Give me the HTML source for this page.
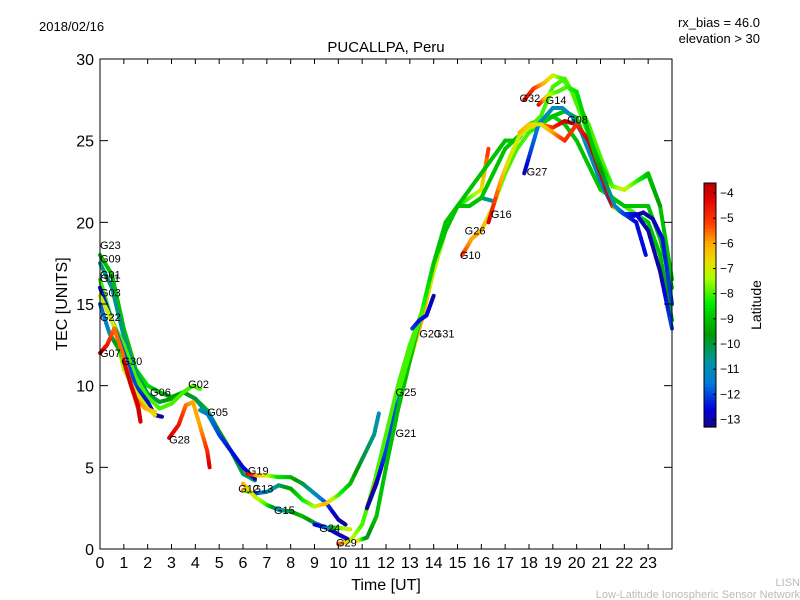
<!DOCTYPE html>
<html><head><meta charset="utf-8"><style>
html,body{margin:0;padding:0;background:#fff;}
svg{display:block;font-family:"Liberation Sans","DejaVu Sans",sans-serif;}
</style></head><body>
<svg id="chart" width="800" height="600" viewBox="0 0 800 600" xmlns="http://www.w3.org/2000/svg">
<rect width="800" height="600" fill="#fff"/>
<text x="39" y="31" font-size="13">2018/02/16</text>
<text x="760" y="27" font-size="13" text-anchor="end">rx_bias = 46.0</text>
<text x="760" y="43" font-size="13" text-anchor="end">elevation &gt; 30</text>
<text x="386" y="52" font-size="15" text-anchor="middle">PUCALLPA, Peru</text>
<g id="plot"></g>
<rect x="100" y="59" width="572" height="490" fill="none" stroke="#000" stroke-width="1"/>
<g id="axes"></g>
<text x="386" y="590" font-size="16" text-anchor="middle">Time [UT]</text>
<text transform="translate(67,304) rotate(-90)" font-size="16" text-anchor="middle">TEC [UNITS]</text>
<g id="cbar"></g>
<text transform="translate(761,305) rotate(-90)" font-size="14" text-anchor="middle">Latitude</text>
<text x="800" y="586" font-size="11" fill="#bbb" text-anchor="end">LISN</text>
<text x="800" y="598" font-size="11" fill="#bbb" text-anchor="end">Low-Latitude Ionospheric Sensor Network</text>
</svg>
<script>
const xTicks=[0,1,2,3,4,5,6,7,8,9,10,11,12,13,14,15,16,17,18,19,20,21,22,23];
const yTicks=[0,5,10,15,20,25,30];
const cbTicks=[-4,-5,-6,-7,-8,-9,-10,-11,-12,-13];
const satNames=["G23","G09","G01","G11","G03","G22","G07","G30","G28","G05","G19","G12","G15","G24","G29","G21","G25","G20","G10","G26","G16","G27","G32","G08","G14","G31"];
const satTimes=[
 [0,0.5,1,1.5,2,2.5,3,3.5,4,4.5,5,5.5,6,6.5],
 [0,0.5,1,1.5,2,2.5,3,3.5,4,4.5,5,5.5],
 [0,0.5,1,1.5,2,2.5,3,3.5,3.9,4.2],
 [0,0.5,1,1.5,2,2.3,2.6],
 [0,0.3,0.6,1,1.5,2,2.3],
 [0,0.4,0.8,1.2,1.6,1.7],
 [0,0.3,0.6,0.9,1.2,1.5,1.9,2.3],
 [1,1.3,1.6,1.7],
 [2.9,3.3,3.6,3.9,4.2,4.5,4.6],
 [4.2,4.6,5,5.5,6,6.5],
 [6.2,6.6,7,7.5,8,8.5,9,9.5,10,10.3],
 [6,6.5,7,7.5,8,8.5,9,9.5,10,10.5,11,11.5,11.7],
 [6,6.5,7,7.5,8,8.5,9,9.5,10,10.4],
 [9,9.5,10,10.5],
 [10,10.5,11,11.5,12,12.5,13,13.5,14,14.5,15,15.5,16,16.5],
 [11.2,11.7,12,12.3],
 [11.2,11.6,12,12.5,13,13.5,14,14.5,15,15.5,16,16.3],
 [10.8,11.2,11.6,12,12.5,13,13.5,14,14.5,15,15.5,16,16.5,17,17.5,18,18.5,19,19.5,20,20.5,21,21.5,22,22.5,23,23.5,24],
 [15.2,15.6,16,16.5,17,17.5,18,18.5,19,19.5,20,20.5,21,21.5,22,22.5,23,23.5,24],
 [12.5,13,13.5,14,14.5,15,15.5,16,16.5,17,17.5,18,18.5,19,19.5,20,20.5,21,21.5,22,22.5,23,23.5,24],
 [16.3,16.8,17.2,17.6,18,18.5,19,19.5,20,20.5,21,21.3],
 [17.8,18.1,18.4,18.7,19,19.4,19.8,20.2,20.6,21,21.5,22,22.5,23,23.5,24],
 [17.8,18.2,18.6,19,19.4,19.8,20.2,20.6,21,21.5,22,22.5,23,23.5],
 [17.6,18,18.5,19,19.5,20,20.5,21,21.5,22,22.5,22.9],
 [18.4,18.8,19.2,19.6,20,20.4,20.8,21.2,21.6,22,22.4,22.8,23.2,23.6,24],
 [13.1,13.4,13.7,14]
];
const satTec=[
 [18,16.8,13.5,11,10,9.6,9.3,9.6,9.2,8.5,7.2,6,4.6,4.2],
 [17.5,16,13,10.8,9.5,9,9.2,9.6,9.2,8.3,7,6],
 [16.5,14,12.5,10.5,9.3,8.6,8.9,9.6,10,9.8],
 [16,14,12,10,9,8.2,8.1],
 [15.5,14.6,13.6,11,9.6,8.6,8.2],
 [15,13.2,12.2,10.5,8.6,7.8],
 [12,12.5,13.5,12.2,10.6,9.2,8.6,8.4],
 [11.5,10,8.8,7.8],
 [6.8,7.6,8.8,9,7.5,6,5],
 [8.5,8.2,7,6,5,4.3],
 [4.6,4.5,4.5,4.4,4.4,4,3.4,2.8,1.8,1.5],
 [3.6,3.4,3.5,3.9,3.7,3,2.6,2.8,3.3,4,5.5,7,8.3],
 [4,3.2,2.7,2.4,2.3,2,1.6,1.3,0.9,0.6],
 [1.5,1.3,1.3,1.2],
 [0.3,0.5,1.5,4,7,10,12.5,14.5,17,19.5,21,21,21.5,21.3],
 [2.5,4.5,6,7.2],
 [2.5,4,6,9,11.5,14,17,19.5,21,21.5,22,24.5],
 [0.5,0.7,2,5,8.5,11.5,14.5,17.5,19.5,21,22,23,24,25,25,26,26.3,26.5,26,25,23.5,22,21.5,21,20.5,20,18,14],
 [18,19,19.5,21,23,24.5,25.5,26,26.5,26.8,26.4,24.5,22.5,21.5,21,21,21,19,16],
 [9.5,12,14.5,17.5,20,21,21,21.5,23,24.5,25.2,25.8,26.5,28.3,28.8,27.5,26,24,22.2,22,22.5,23,21,16.5],
 [20,22.5,24,25.3,25.8,26,25.8,26.2,26,25,23.5,22.5],
 [23,24.5,26,26.5,27,27,26.5,25.5,24,22.5,21,20.5,20.5,19.5,17,13.5],
 [27.5,28.2,28.5,29,28.8,28,26.5,25,23.5,22.2,22,22.5,22.9,21],
 [25.5,26,26,25.5,25,26,25,23,21,20.5,20,18],
 [27.2,27.8,28,28.3,28,26,24,22.5,21,20.5,20.4,20.6,20.2,19,15],
 [13.5,14,14.3,15.5]
];
const satLat=[
 [-9,-9,-9,-9,-8.5,-9,-9.5,-9,-9,-9,-9.5,-10,-10,-10.5],
 [-10.5,-10.5,-10.5,-10.5,-10,-10,-9.5,-9.5,-10,-10.5,-11,-11],
 [-8,-8,-8,-8,-8,-8,-8,-8,-8,-8],
 [-12.5,-12,-12,-12,-12.5,-13,-13],
 [-7,-7,-7,-7,-7,-7,-7],
 [-12,-11,-9,-6,-5,-4],
 [-4,-4.5,-5.5,-5.5,-5.5,-5.5,-6,-6.5],
 [-4,-4,-4,-4],
 [-4,-4.5,-5.5,-6,-6,-5,-4],
 [-11,-11.5,-12,-12.5,-12.5,-13],
 [-4,-6,-7,-8.5,-9,-10,-11,-12,-13,-13],
 [-5,-12.5,-11,-10.5,-9.5,-8.5,-7.5,-6,-8,-9,-10,-10.5,-11],
 [-6,-7,-8,-11,-10,-9,-10,-12,-13,-13],
 [-13,-12,-8,-7],
 [-5,-7,-8,-8,-8,-8,-8,-8,-8,-8,-8.5,-9,-10,-11],
 [-4,-4,-4,-4],
 [-13,-13,-12,-12,-7,-6,-7,-8,-8.5,-8,-7,-5],
 [-6,-10,-9,-9,-9,-9,-9,-9,-9,-9,-9,-9,-9,-9,-9,-9,-9,-8.5,-9,-9,-9,-9,-8,-8,-8,-9,-9,-10],
 [-5,-6,-6,-7,-8,-8,-8,-8.5,-9,-9,-9,-9,-9,-9,-9,-9,-9,-9,-9],
 [-8,-8,-8,-9,-9,-9,-9,-9,-9,-9,-9,-8,-8,-8,-8,-8,-8,-8,-8,-8,-8,-9,-9,-9],
 [-4,-6,-7,-7,-7,-6,-5,-4,-4,-4.5,-5,-4],
 [-13,-12,-11.5,-11,-11,-11,-11,-11,-11,-11.5,-12,-12.5,-12.5,-13,-13,-12],
 [-4,-5,-6,-7,-8,-8,-8,-8.5,-9,-8,-7,-8,-9,-9.5],
 [-6,-6.5,-7,-6,-5,-5,-4,-4,-4,-12,-12.5,-12.5],
 [-4,-7,-8,-8,-8.5,-9,-9,-10,-11,-12,-12.5,-13,-13,-12.5,-12],
 [-12,-12.5,-12.5,-13]
];
const labelT=[0,0,0,0,0,0,0,0.9,2.9,4.5,6.2,5.8,7.3,9.2,9.9,12.4,12.4,13.4,15.1,15.3,16.4,17.9,17.6,19.6,18.7,14];
const labelV=[18.6,17.8,16.8,16.6,15.7,14.2,12,11.5,6.7,8.4,4.8,3.7,2.4,1.3,0.4,7.1,9.6,13.2,18,19.5,20.5,23.1,27.6,26.3,27.5,13.2];
const extraLabels=["G06","G02","G13"];
const extraT=[2.1,3.7,6.4];
const extraV=[9.6,10.1,3.7];

const NS="http://www.w3.org/2000/svg";
const X0=100,X1=672,Y0=549,Y1=59;
const xs=t=>X0+t*(X1-X0)/24;
const ys=v=>Y0-v*(Y0-Y1)/30;
const LMIN=-13.3,LMAX=-3.6;
const STOPS=[[-13.3,[20,10,130]],[-12.6,[0,0,220]],[-11.6,[0,120,220]],[-10.7,[0,150,160]],[-9.6,[0,155,0]],[-8.4,[0,235,0]],[-7.4,[170,255,0]],[-6.7,[235,220,0]],[-6,[255,170,0]],[-5.2,[255,60,0]],[-4.2,[225,0,0]],[-3.6,[180,0,0]]];
function jet(v){
 v=Math.max(LMIN,Math.min(LMAX,v));
 for(let i=0;i<STOPS.length-1;i++){
  const a=STOPS[i],b=STOPS[i+1];
  if(v<=b[0]){
   const f=(v-a[0])/(b[0]-a[0]);
   const c=a[1].map((x,k)=>Math.round(x+(b[1][k]-x)*f));
   return `rgb(${c[0]},${c[1]},${c[2]})`;
  }
 }
 return 'rgb(180,0,0)';
}
const plot=document.getElementById('plot');
for(let i=0;i<satNames.length;i++){
 const g=document.createElementNS(NS,'g');
 
 
 const T=satTimes[i],V=satTec[i],L=satLat[i];
 for(let j=0;j<T.length-1;j++){
  const n=6;
  for(let k=0;k<n;k++){
   const a=k/n,b=(k+1)/n;
   const ln=document.createElementNS(NS,'line');
   ln.setAttribute('x1',xs(T[j]+(T[j+1]-T[j])*a));
   ln.setAttribute('y1',ys(V[j]+(V[j+1]-V[j])*a));
   ln.setAttribute('x2',xs(T[j]+(T[j+1]-T[j])*b));
   ln.setAttribute('y2',ys(V[j]+(V[j+1]-V[j])*b));
   ln.setAttribute('stroke',jet(L[j]+(L[j+1]-L[j])*(a+b)/2));
   ln.setAttribute('stroke-width','4');
   ln.setAttribute('stroke-linecap','round');
   g.appendChild(ln);
  }
 }
 plot.appendChild(g);
}
function addLabel(txt,t,v){
 const tx=document.createElementNS(NS,'text');
 
 
 tx.setAttribute('x',xs(t));tx.setAttribute('y',ys(v)+4);
 tx.setAttribute('font-size','11');
 tx.textContent=txt;plot.appendChild(tx);
}
for(let i=0;i<satNames.length;i++) addLabel(satNames[i],labelT[i],labelV[i]);
for(let i=0;i<extraLabels.length;i++) addLabel(extraLabels[i],extraT[i],extraV[i]);

const axes=document.getElementById('axes');
xTicks.forEach(t=>{
 const x=xs(t);
 [[Y0,Y0-5],[Y1,Y1+5]].forEach(p=>{
  const l=document.createElementNS(NS,'line');
  
  
  l.setAttribute('x1',x);l.setAttribute('x2',x);l.setAttribute('y1',p[0]);l.setAttribute('y2',p[1]);
  l.setAttribute('stroke','#000');axes.appendChild(l);
 });
 const tx=document.createElementNS(NS,'text');
 
 
 tx.setAttribute('x',x);tx.setAttribute('y',568);tx.setAttribute('font-size','16');
 tx.setAttribute('text-anchor','middle');tx.textContent=t;axes.appendChild(tx);
});
yTicks.forEach(v=>{
 const y=ys(v);
 [[X0,X0+8],[X1,X1-8]].forEach(p=>{
  const l=document.createElementNS(NS,'line');
  
  
  l.setAttribute('x1',p[0]);l.setAttribute('x2',p[1]);l.setAttribute('y1',y);l.setAttribute('y2',y);
  l.setAttribute('stroke','#000');axes.appendChild(l);
 });
 const tx=document.createElementNS(NS,'text');
 
 
 tx.setAttribute('x',94);tx.setAttribute('y',y+6);tx.setAttribute('font-size','16');
 tx.setAttribute('text-anchor','end');tx.textContent=v;axes.appendChild(tx);
});
const cb=document.getElementById('cbar');
const CX=704,CW=12,CT=183,CB=427;
const cy=v=>CB-(v-LMIN)/(LMAX-LMIN)*(CB-CT);
for(let i=0;i<80;i++){
 const r=document.createElementNS(NS,'rect');
 
 
 const y=CT+i*(CB-CT)/80;
 r.setAttribute('x',CX);r.setAttribute('y',y);r.setAttribute('width',CW);r.setAttribute('height',(CB-CT)/80+0.6);
 r.setAttribute('fill',jet(LMAX-(i+0.5)/80*(LMAX-LMIN)));cb.appendChild(r);
}
const fr=document.createElementNS(NS,'rect');


fr.setAttribute('x',CX);fr.setAttribute('y',CT);fr.setAttribute('width',CW);fr.setAttribute('height',CB-CT);
fr.setAttribute('fill','none');fr.setAttribute('stroke','#000');cb.appendChild(fr);
cbTicks.forEach(v=>{
 const y=cy(v);
 const l=document.createElementNS(NS,'line');
 
 
 l.setAttribute('x1',CX+CW-3);l.setAttribute('x2',CX+CW);l.setAttribute('y1',y);l.setAttribute('y2',y);
 l.setAttribute('stroke','#000');cb.appendChild(l);
 const tx=document.createElementNS(NS,'text');
 
 
 tx.setAttribute('x',CX+CW+4);tx.setAttribute('y',y+4);tx.setAttribute('font-size','12');
 tx.textContent='\u2212'+Math.abs(v);cb.appendChild(tx);
});
</script>
</body></html>
